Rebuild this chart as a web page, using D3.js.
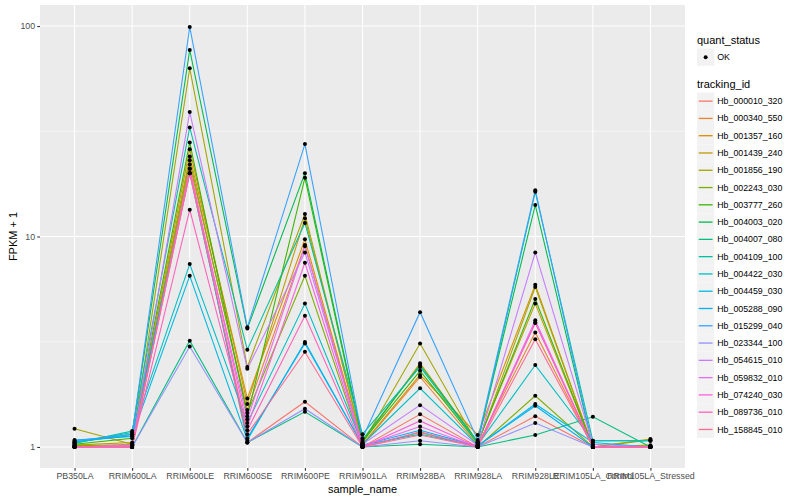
<!DOCTYPE html>
<html>
<head>
    <meta charset="utf-8">
    <title>FPKM by sample</title>
    <script src="https://d3js.org/d3.v7.min.js"></script>
    <style>
        body { margin: 0; background: #fff; }
        svg { font-family: "Liberation Sans", Arial, Helvetica, sans-serif; }
        .tick-label { font-size: 8.8px; fill: #4d4d4d; }
        .axis-title { font-size: 11px; fill: #000; }
        .legend-title { font-size: 11px; fill: #000; }
        .legend-label { font-size: 8.8px; fill: #000; }
    </style>
</head>
<body>
<div id="chart"></div>
<script>
    // sample names on the x axis
    const samples = ["PB350LA", "RRIM600LA", "RRIM600LE", "RRIM600SE", "RRIM600PE", "RRIM901LA",
        "RRIM928BA", "RRIM928LA", "RRIM928LE", "RRIM105LA_Control", "RRIM105LA_Stressed"];

    // genes (one line each)
    const trackingIds = ["Hb_000010_320", "Hb_000340_550", "Hb_001357_160", "Hb_001439_240",
        "Hb_001856_190", "Hb_002243_030", "Hb_003777_260", "Hb_004003_020", "Hb_004007_080",
        "Hb_004109_100", "Hb_004422_030", "Hb_004459_030", "Hb_005288_090", "Hb_015299_040",
        "Hb_023344_100", "Hb_054615_010", "Hb_059832_010", "Hb_074240_030", "Hb_089736_010",
        "Hb_158845_010"];

    // FPKM + 1, one row per tracking id, one value per sample
    const fpkmPlus1 = [
        [1.00, 1.02, 21.0, 1.05, 1.64, 1.00, 1.43, 1.00, 1.40, 1.00, 1.00],
        [1.00, 1.01, 22.0, 1.50, 9.10, 1.02, 2.15, 1.02, 3.50, 1.00, 1.00],
        [1.01, 1.03, 24.0, 1.70, 9.70, 1.03, 2.20, 1.14, 5.90, 1.00, 1.00],
        [1.02, 1.05, 26.0, 1.60, 12.2, 1.05, 2.50, 1.05, 4.80, 1.00, 1.02],
        [1.22, 1.03, 63.0, 2.40, 12.8, 1.04, 3.10, 1.03, 5.75, 1.00, 1.09],
        [1.02, 1.00, 23.0, 1.45, 6.50, 1.00, 1.17, 1.00, 1.75, 1.00, 1.08],
        [1.03, 1.10, 28.0, 1.40, 19.0, 1.06, 2.30, 1.04, 5.05, 1.00, 1.00],
        [1.05, 1.15, 77.0, 3.65, 20.0, 1.08, 2.45, 1.06, 14.1, 1.00, 1.00],
        [1.00, 1.00, 3.20, 1.05, 1.47, 1.00, 1.03, 1.00, 1.14, 1.39, 1.00],
        [1.04, 1.19, 33.0, 2.90, 11.6, 1.15, 2.40, 1.05, 16.3, 1.07, 1.07],
        [1.05, 1.17, 7.40, 1.30, 4.80, 1.03, 1.90, 1.02, 2.45, 1.07, 1.07],
        [1.06, 1.13, 6.50, 1.08, 3.15, 1.02, 1.15, 1.01, 1.60, 1.05, 1.00],
        [1.08, 1.12, 20.0, 1.10, 3.10, 1.02, 1.20, 1.01, 1.57, 1.00, 1.00],
        [1.07, 1.15, 99.0, 3.70, 27.5, 1.10, 4.37, 1.08, 16.6, 1.00, 1.00],
        [1.00, 1.00, 3.00, 1.05, 1.52, 1.00, 1.07, 1.00, 1.30, 1.00, 1.00],
        [1.00, 1.02, 39.0, 2.35, 8.40, 1.03, 1.58, 1.02, 8.40, 1.03, 1.00],
        [1.00, 1.01, 20.0, 1.35, 9.00, 1.01, 1.25, 1.00, 4.00, 1.00, 1.00],
        [1.00, 1.00, 21.0, 1.25, 7.50, 1.00, 1.33, 1.00, 3.90, 1.00, 1.00],
        [1.00, 1.00, 13.4, 1.20, 4.20, 1.00, 1.18, 1.00, 3.88, 1.00, 1.00],
        [1.00, 1.00, 20.0, 1.15, 2.83, 1.00, 1.14, 1.00, 3.25, 1.00, 1.00]
    ];

    const yTicks = [1, 10, 100];
    const yMinor = [Math.sqrt(10), Math.sqrt(1000)];
    const quantStatus = ["OK"];

    // ggplot default hue palette for 20 levels
    const palette = ["#F8766D", "#EA8331", "#D89000", "#C09B00", "#A3A500", "#7CAE00", "#39B600",
        "#00BB4E", "#00BF7D", "#00C1A3", "#00BFC4", "#00BAE0", "#00B0F6", "#35A2FF", "#9590FF",
        "#C77CFF", "#E76BF3", "#FA62DB", "#FF62BC", "#FF6C91"];

    const W = 800, H = 500;
    const panel = { left: 40, right: 685, top: 5, bottom: 468 };

    const svg = d3.select("#chart").append("svg")
        .attr("width", W)
        .attr("height", H);

    const x = d3.scalePoint()
        .domain(samples)
        .range([panel.left, panel.right])
        .padding(0.6);

    const y = d3.scaleLog()
        .domain([Math.pow(10, -0.1), Math.pow(10, 2.1)])
        .range([panel.bottom, panel.top]);

    const color = d3.scaleOrdinal().domain(trackingIds).range(palette);

    // panel background
    svg.append("rect")
        .attr("x", panel.left).attr("y", panel.top)
        .attr("width", panel.right - panel.left)
        .attr("height", panel.bottom - panel.top)
        .attr("fill", "#ebebeb");

    // grid
    const grid = svg.append("g");
    grid.selectAll(".minor").data(yMinor).enter().append("line")
        .attr("x1", panel.left).attr("x2", panel.right)
        .attr("y1", d => y(d)).attr("y2", d => y(d))
        .attr("stroke", "#fff").attr("stroke-width", 0.53);
    grid.selectAll(".major-y").data(yTicks).enter().append("line")
        .attr("x1", panel.left).attr("x2", panel.right)
        .attr("y1", d => y(d)).attr("y2", d => y(d))
        .attr("stroke", "#fff").attr("stroke-width", 1.07);
    grid.selectAll(".major-x").data(samples).enter().append("line")
        .attr("x1", d => x(d)).attr("x2", d => x(d))
        .attr("y1", panel.top).attr("y2", panel.bottom)
        .attr("stroke", "#fff").attr("stroke-width", 1.07);

    // lines
    const series = trackingIds.map((id, i) => ({
        id: id,
        values: samples.map((s, j) => ({ sample: s, value: fpkmPlus1[i][j] }))
    }));

    const line = d3.line()
        .x(d => x(d.sample))
        .y(d => y(d.value));

    svg.append("g").selectAll("path")
        .data(series)
        .enter().append("path")
        .attr("d", d => line(d.values))
        .attr("fill", "none")
        .attr("stroke", d => color(d.id))
        .attr("stroke-width", 1.07);

    // points
    svg.append("g").selectAll("g")
        .data(series)
        .enter().append("g")
        .selectAll("circle")
        .data(d => d.values)
        .enter().append("circle")
        .attr("cx", d => x(d.sample))
        .attr("cy", d => y(d.value))
        .attr("r", 2)
        .attr("fill", "#000");

    // axes
    const yAxis = svg.append("g")
        .attr("transform", "translate(" + panel.left + ",0)")
        .call(d3.axisLeft(y).tickValues(yTicks).tickFormat(d3.format("d")).tickSize(2.75).tickPadding(2.2));
    yAxis.select(".domain").remove();
    yAxis.selectAll(".tick line").attr("stroke", "#333333").attr("stroke-width", 1.07);
    yAxis.selectAll(".tick text").attr("class", "tick-label").attr("font-size", null).attr("font-family", null);

    const xAxis = svg.append("g")
        .attr("transform", "translate(0," + panel.bottom + ")")
        .call(d3.axisBottom(x).tickSize(2.75).tickPadding(2.2));
    xAxis.select(".domain").remove();
    xAxis.selectAll(".tick line").attr("stroke", "#333333").attr("stroke-width", 1.07);
    xAxis.selectAll(".tick text").attr("class", "tick-label").attr("font-size", null).attr("font-family", null);

    svg.append("text")
        .attr("class", "axis-title")
        .attr("x", (panel.left + panel.right) / 2)
        .attr("y", 493)
        .attr("text-anchor", "middle")
        .text("sample_name");

    svg.append("text")
        .attr("class", "axis-title")
        .attr("transform", "translate(17," + ((panel.top + panel.bottom) / 2) + ") rotate(-90)")
        .attr("text-anchor", "middle")
        .text("FPKM + 1");

    // legends
    const lx = 697, key = 17.28;

    svg.append("text").attr("class", "legend-title")
        .attr("x", lx).attr("y", 44).text("quant_status");

    const qs = svg.append("g").selectAll("g")
        .data(quantStatus)
        .enter().append("g")
        .attr("transform", (d, i) => "translate(" + lx + "," + (48.5 + i * key) + ")");
    qs.append("rect").attr("width", key).attr("height", key).attr("fill", "#f2f2f2");
    qs.append("circle").attr("cx", key / 2).attr("cy", key / 2).attr("r", 2).attr("fill", "#000");
    qs.append("text").attr("class", "legend-label")
        .attr("x", key + 3).attr("y", key / 2).attr("dy", "0.35em").text(d => d);

    svg.append("text").attr("class", "legend-title")
        .attr("x", lx).attr("y", 88).text("tracking_id");

    const tl = svg.append("g").selectAll("g")
        .data(trackingIds)
        .enter().append("g")
        .attr("transform", (d, i) => "translate(" + lx + "," + (92.5 + i * key) + ")");
    tl.append("rect").attr("width", key).attr("height", key).attr("fill", "#f2f2f2");
    tl.append("line")
        .attr("x1", 1.7).attr("x2", key - 1.7)
        .attr("y1", key / 2).attr("y2", key / 2)
        .attr("stroke", d => color(d)).attr("stroke-width", 1.3);
    tl.append("text").attr("class", "legend-label")
        .attr("x", key + 3).attr("y", key / 2).attr("dy", "0.35em").text(d => d);
</script>
</body>
</html>
